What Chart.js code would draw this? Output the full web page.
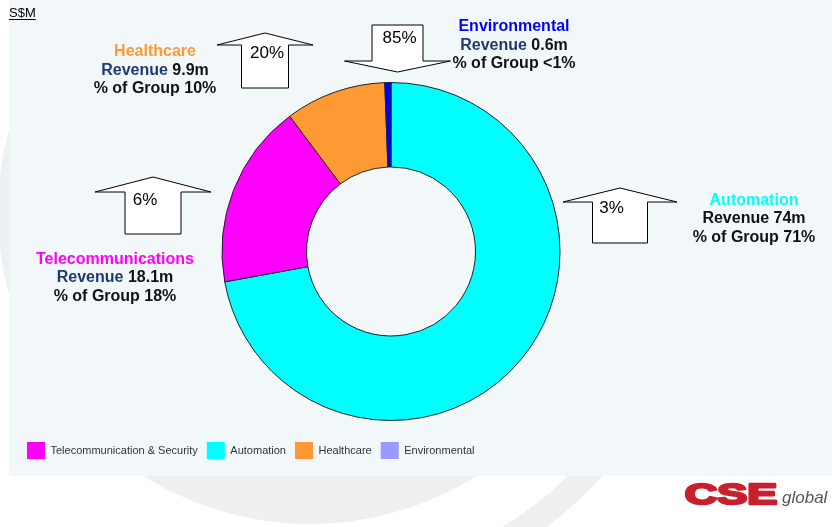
<!DOCTYPE html>
<html><head><meta charset="utf-8">
<script src="https://cdn.jsdelivr.net/npm/chart.js@4"></script>
<style>html,body{margin:0;padding:0;background:#fff;}canvas{display:block;}</style>
</head><body>
<canvas id="c" width="832" height="527"></canvas>
<script>
// ---- data ----
const categories = ['Automation', 'Telecommunication & Security', 'Healthcare', 'Environmental'];
const revenue = [74, 18.1, 9.9, 0.6];
const sliceColors = ['#00FFFF', '#FF00FF', '#FF9933', '#0000FF'];
const legendOrder = ['Telecommunication & Security', 'Automation', 'Healthcare', 'Environmental'];
const legendSwatch = ['#00FFFF', '#FF00FF', '#FF9933', '#9999FF'];
const unitLabel = 'S$M';
const segmentTitles = ['Automation', 'Telecommunications', 'Healthcare', 'Environmental'];
const revenueText = ['74m', '18.1m', '9.9m', '0.6m'];
const groupShare = ['71%', '18%', '10%', '<1%'];
const growth = ['3%', '6%', '20%', '85%'];

const F = '"Liberation Sans", Arial, Helvetica, sans-serif';
const NAVY = '#1F3A73';

const bgPlugin = {
  id: 'bg',
  beforeDraw(chart) {
    const ctx = chart.ctx;
    ctx.save();
    ctx.fillStyle = '#ffffff';
    ctx.fillRect(0, 0, chart.width, chart.height);
    ctx.fillStyle = '#EEEFF1';
    ctx.beginPath(); ctx.arc(310, 212, 312, 0, Math.PI * 2); ctx.fill();
    ctx.beginPath();
    ctx.arc(310, 212, 394, Math.PI * 0.1, Math.PI * 0.5);
    ctx.arc(310, 212, 369, Math.PI * 0.5, Math.PI * 0.1, true);
    ctx.closePath();
    ctx.fill();
    ctx.fillStyle = '#F2F7FA';
    ctx.fillRect(9, 0, chart.width - 9, 476);
    ctx.restore();
  }
};

function upArrow(ctx, cx, tipY, headY, headHalf, shaftHalf, bottom) {
  ctx.beginPath();
  ctx.moveTo(cx, tipY);
  ctx.lineTo(cx + headHalf, headY);
  ctx.lineTo(cx + shaftHalf, headY);
  ctx.lineTo(cx + shaftHalf, bottom);
  ctx.lineTo(cx - shaftHalf, bottom);
  ctx.lineTo(cx - shaftHalf, headY);
  ctx.lineTo(cx - headHalf, headY);
  ctx.closePath();
  ctx.fillStyle = '#fff'; ctx.fill();
  ctx.strokeStyle = '#000'; ctx.lineWidth = 1; ctx.stroke();
}
function downArrow(ctx, cx, top, headY, headHalf, shaftHalf, tipY) {
  ctx.beginPath();
  ctx.moveTo(cx - shaftHalf, top);
  ctx.lineTo(cx + shaftHalf, top);
  ctx.lineTo(cx + shaftHalf, headY);
  ctx.lineTo(cx + headHalf, headY);
  ctx.lineTo(cx, tipY);
  ctx.lineTo(cx - headHalf, headY);
  ctx.lineTo(cx - shaftHalf, headY);
  ctx.closePath();
  ctx.fillStyle = '#fff'; ctx.fill();
  ctx.strokeStyle = '#000'; ctx.lineWidth = 1; ctx.stroke();
}
function line(ctx, cx, y, parts) {
  ctx.font = 'bold 16px ' + F;
  let w = 0;
  parts.forEach(p => w += ctx.measureText(p[0]).width);
  let x = cx - w / 2;
  ctx.textAlign = 'left';
  ctx.textBaseline = 'alphabetic';
  parts.forEach(p => { ctx.fillStyle = p[1]; ctx.fillText(p[0], x, y); x += ctx.measureText(p[0]).width; });
}
function block(ctx, cx, y0, i, titleColor, revColor) {
  line(ctx, cx, y0, [[segmentTitles[i], titleColor]]);
  line(ctx, cx, y0 + 18.5, [['Revenue', revColor], [' ' + revenueText[i], '#111']]);
  line(ctx, cx, y0 + 37, [['% of Group ' + groupShare[i], '#111']]);
}

const annoPlugin = {
  id: 'anno',
  afterDraw(chart) {
    const ctx = chart.ctx;
    ctx.save();
    // unit label
    ctx.font = '13px ' + F; ctx.fillStyle = '#000'; ctx.textAlign = 'left'; ctx.textBaseline = 'alphabetic';
    ctx.fillText(unitLabel, 9, 17);
    const uw = ctx.measureText(unitLabel).width;
    ctx.fillRect(9, 19, uw, 1);

    // arrows
    upArrow(ctx, 265, 33, 45, 48, 23.5, 88);
    upArrow(ctx, 153, 177, 192, 58, 28, 234);
    upArrow(ctx, 620, 188, 202, 57, 27.5, 243);
    downArrow(ctx, 397.5, 25, 61, 53, 25.5, 72);

    ctx.font = '17px ' + F; ctx.fillStyle = '#000'; ctx.textAlign = 'center'; ctx.textBaseline = 'middle';
    ctx.fillText(growth[2], 267, 53);
    ctx.fillText(growth[3], 399.5, 38);
    ctx.fillText(growth[1], 145, 200);
    ctx.fillText(growth[0], 611.5, 208.5);

    // segment labels
    block(ctx, 155, 56, 2, '#FF9933', NAVY);
    block(ctx, 514, 31, 3, '#0000FF', NAVY);
    block(ctx, 754, 204.5, 0, '#00FFFF', '#111');
    block(ctx, 115, 263.5, 1, '#FF00FF', NAVY);

    // logo
    ctx.save();
    ctx.translate(684, 504);
    ctx.scale(1.5, 1);
    ctx.font = '900 30px ' + F;
    ctx.fillStyle = '#C8202E';
    ctx.strokeStyle = '#C8202E';
    ctx.lineWidth = 2.4;
    ctx.lineJoin = 'round';
    ctx.textAlign = 'left'; ctx.textBaseline = 'alphabetic';
    ctx.fillText('CSE', 0.5, -0.5);
    ctx.strokeText('CSE', 0.5, -0.5);
    ctx.restore();
    ctx.font = 'italic 17px ' + F;
    ctx.fillStyle = '#555';
    ctx.textAlign = 'left'; ctx.textBaseline = 'alphabetic';
    ctx.fillText('global', 782, 503);
    ctx.restore();
  }
};

new Chart(document.getElementById('c'), {
  type: 'doughnut',
  data: {
    labels: categories,
    datasets: [{
      data: revenue,
      backgroundColor: sliceColors,
      borderColor: '#222',
      borderWidth: 1
    }]
  },
  options: {
    responsive: false,
    animation: false,
    events: [],
    radius: 169,
    cutout: '50%',
    layout: { padding: { top: 70, left: 18, right: 68, bottom: 58 } },
    plugins: {
      tooltip: { enabled: false },
      legend: {
        display: true,
        position: 'bottom',
        align: 'start',
        labels: {
          boxWidth: 18,
          boxHeight: 17,
          padding: 9,
          color: '#333',
          font: { family: F, size: 11 },
          generateLabels(chart) {
            return categories.map((c, i) => ({
              text: c, fillStyle: legendSwatch[i], strokeStyle: 'rgba(0,0,0,0)', lineWidth: 0,
              hidden: false, index: i, fontColor: '#333'
            }));
          },
          sort: (a, b) => legendOrder.indexOf(a.text) - legendOrder.indexOf(b.text)
        }
      }
    }
  },
  plugins: [bgPlugin, annoPlugin]
});
</script>
</body></html>
